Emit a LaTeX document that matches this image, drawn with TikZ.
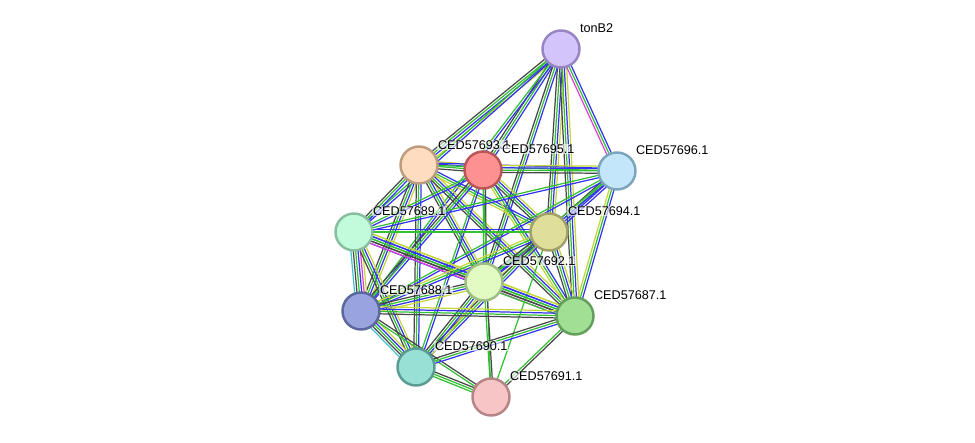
\documentclass[tikz,border=0pt]{standalone}
\usepackage{fontspec}
\setmainfont{Liberation Sans}
\usetikzlibrary{calc,backgrounds}

\definecolor{sG}{HTML}{33C033}
\definecolor{sB}{HTML}{3333F0}
\definecolor{sK}{HTML}{474747}
\definecolor{sY}{HTML}{C5D63A}
\definecolor{sM}{HTML}{E040E0}
\definecolor{sC}{HTML}{40C4D4}

\tikzset{
  prot/.style={circle,minimum size=0.74cm,inner sep=0pt,line width=1.4pt},
  lbl/.style={anchor=west,font=\fontsize{7.2}{8}\selectfont,fill=white,
    fill opacity=0.6,text opacity=1,inner sep=0.4pt},
  strline/.style={line width=0.7pt}
}

% one STRING link: parallel lines, one per colour
\newcommand{\strlink}[3]{%
  \foreach \c [count=\i] in {#3} {%
    \pgfmathsetmacro\off{(mod(\i,2)==0 ? 1 : -1)*floor(\i/2)*1.35}
    \draw[strline,draw=\c] ($(#1.center)!\off pt!90:(#2.center)$) --
      ($(#2.center)!\off pt!-90:(#1.center)$);
  }%
}

\begin{document}
\begin{tikzpicture}[x=0.02cm,y=-0.02cm]
  \useasboundingbox (0,0) rectangle (975,443);

  % proteins
  \node[prot,fill={rgb,255:red,212;green,196;blue,252},draw={rgb,255:red,150;green,132;blue,196}] (tonB) at (561,49) {};
  \node[prot,fill={rgb,255:red,253;green,220;blue,191},draw={rgb,255:red,190;green,156;blue,126}] (p93) at (419,165) {};
  \node[prot,fill={rgb,255:red,253;green,144;blue,144},draw={rgb,255:red,186;green,86;blue,86}] (p95) at (483,170) {};
  \node[prot,fill={rgb,255:red,195;green,230;blue,251},draw={rgb,255:red,124;green,164;blue,188}] (p96) at (617,171) {};
  \node[prot,fill={rgb,255:red,194;green,251;blue,219},draw={rgb,255:red,134;green,190;blue,158}] (p89) at (354,232) {};
  \node[prot,fill={rgb,255:red,223;green,223;blue,155},draw={rgb,255:red,160;green,160;blue,104}] (p94) at (549,232) {};
  \node[prot,fill={rgb,255:red,226;green,251;blue,195},draw={rgb,255:red,158;green,190;blue,132}] (p92) at (484,282) {};
  \node[prot,fill={rgb,255:red,153;green,163;blue,221},draw={rgb,255:red,90;green,104;blue,158}] (p88) at (361,311) {};
  \node[prot,fill={rgb,255:red,160;green,223;blue,148},draw={rgb,255:red,98;green,158;blue,92}] (p87) at (575,316) {};
  \node[prot,fill={rgb,255:red,152;green,224;blue,213},draw={rgb,255:red,90;green,156;blue,148}] (p90) at (416,367) {};
  \node[prot,fill={rgb,255:red,247;green,197;blue,197},draw={rgb,255:red,182;green,132;blue,132}] (p91) at (491,397) {};

  % labels
  \node[lbl] (ltonB) at (579,28) {tonB2};
  \node[lbl] (l93) at (437,145) {CED57693.1};
  \node[lbl] (l95) at (501,149) {CED57695.1};
  \node[lbl] (l96) at (635,150) {CED57696.1};
  \node[lbl] (l89) at (372,211) {CED57689.1};
  \node[lbl] (l94) at (567,211) {CED57694.1};
  \node[lbl] (l92) at (502,261) {CED57692.1};
  \node[lbl] (l88) at (379,290) {CED57688.1};
  \node[lbl] (l87) at (593,295) {CED57687.1};
  \node[lbl] (l90) at (434,346) {CED57690.1};
  \node[lbl] (l91) at (509,376) {CED57691.1};

  % links
  \begin{scope}[on background layer]
    \strlink{tonB}{p93}{sG,sB,sK,sY}
    \strlink{tonB}{p95}{sG,sB,sK}
    \strlink{tonB}{p89}{sG,sB}
    \strlink{tonB}{p94}{sG,sB,sK,sY}
    \strlink{tonB}{p92}{sG,sB,sK}
    \strlink{tonB}{p87}{sG,sB,sK,sY}
    \strlink{tonB}{p96}{sG,sB,sM}
    \strlink{tonB}{p88}{sG,sB}
    \strlink{p93}{p95}{sG,sB,sK,sY}
    \strlink{p93}{p89}{sG,sB,sK}
    \strlink{p93}{p94}{sG,sB,sY}
    \strlink{p93}{p92}{sG,sB,sK,sY}
    \strlink{p93}{p88}{sG,sB,sK,sY}
    \strlink{p93}{p87}{sG,sB,sK,sY}
    \strlink{p93}{p90}{sG,sB,sK}
    \strlink{p93}{p96}{sG,sB}
    \strlink{p95}{p96}{sG,sB,sK,sY}
    \strlink{p95}{p89}{sG,sB}
    \strlink{p95}{p94}{sG,sB,sK,sY}
    \strlink{p95}{p92}{sG,sK}
    \strlink{p95}{p88}{sG,sB,sK}
    \strlink{p95}{p87}{sG,sB,sY}
    \strlink{p95}{p90}{sG,sB}
    \strlink{p95}{p91}{sG}
    \strlink{p96}{p94}{sG,sB,sK,sB}
    \strlink{p96}{p89}{sG,sB}
    \strlink{p96}{p92}{sG,sB}
    \strlink{p96}{p87}{sG,sB,sY}
    \strlink{p96}{p88}{sG,sB}
    \strlink{p89}{p94}{sG,sB}
    \strlink{p89}{p92}{sG,sB,sK,sY,sB}
    \strlink{p89}{p87}{sG,sB,sK,sY,sM}
    \strlink{p89}{p88}{sG,sB,sK,sM,sC,sY}
    \strlink{p89}{p90}{sG,sB,sK,sY}
    \strlink{p94}{p92}{sG,sB,sK,sY}
    \strlink{p94}{p87}{sG,sB,sK,sY}
    \strlink{p94}{p88}{sG,sB,sY}
    \strlink{p94}{p90}{sG,sB,sK}
    \strlink{p94}{p91}{sG}
    \strlink{p92}{p88}{sG,sB,sK,sY}
    \strlink{p92}{p87}{sG,sB,sK,sY,sG}
    \strlink{p92}{p90}{sG,sB,sK,sY}
    \strlink{p92}{p91}{sG,sK}
    \strlink{p88}{p87}{sG,sB,sK,sY}
    \strlink{p88}{p90}{sG,sB,sK,sY,sC}
    \strlink{p88}{p91}{sG,sK}
    \strlink{p87}{p90}{sG,sB,sK}
    \strlink{p87}{p91}{sG,sK}
    \strlink{p90}{p91}{sG,sK,sG}
  \end{scope}
\end{tikzpicture}
\end{document}
